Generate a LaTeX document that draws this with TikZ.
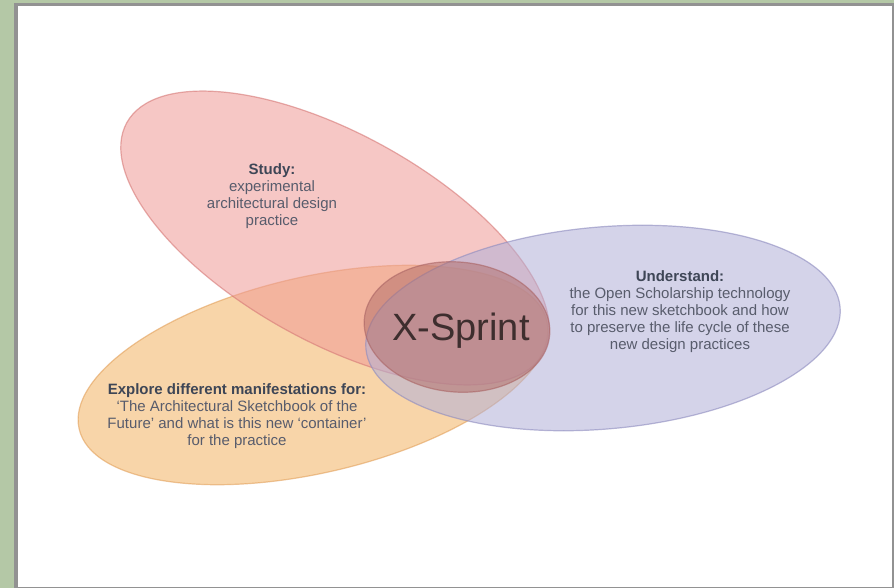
\documentclass[tikz,border=0pt]{standalone}
\usepackage{fontspec}
\setmainfont{Liberation Sans}
\definecolor{framegreen}{RGB}{180,200,166}
\definecolor{framegray}{RGB}{146,146,146}
\definecolor{studyred}{RGB}{239,153,150}
\definecolor{studyedge}{RGB}{214,120,118}
\definecolor{exploreorange}{RGB}{244,180,100}
\definecolor{exploreedge}{RGB}{226,160,90}
\definecolor{understandblue}{RGB}{178,176,216}
\definecolor{understandedge}{RGB}{140,138,190}
\definecolor{sprintfill}{RGB}{176,108,104}
\definecolor{sprintedge}{RGB}{170,100,100}
\definecolor{captiongray}{RGB}{88,92,108}
\definecolor{headgray}{RGB}{62,70,86}
\newcommand{\heading}[1]{{\color{headgray}\bfseries #1}}

\begin{document}
\begin{tikzpicture}[x=1pt, y=-1pt]
  \tikzset{blob/.style={fill opacity=0.55, draw opacity=0.6, line width=1.2pt},
           caption/.style={align=center, text=captiongray, font=\fontsize{15}{17}\selectfont}}
  % frame of the screenshot
  \fill[framegreen] (0,0) rectangle (894,588);
  \fill[framegray] (14,3) rectangle (894,588);
  \fill[white] (18,6.5) rectangle (891.5,586.5);
  \useasboundingbox (0,0) rectangle (894,588);
  % the three sets
  \filldraw[blob, fill=exploreorange, draw=exploreedge, rotate around={13:(313,375)}]
    (313,375) ellipse (240 and 98);
  \filldraw[blob, fill=studyred, draw=studyedge, rotate around={-29:(335,238)}]
    (335,238) ellipse (238 and 104);
  \filldraw[blob, fill=understandblue, draw=understandedge, rotate around={5:(603,328)}]
    (603,328) ellipse (238 and 101);
  % the middle
  \filldraw[blob, fill opacity=0.5, fill=sprintfill, draw=sprintedge, rotate around={-5:(457,327)}]
    (457,327) ellipse (93 and 65);
  \node[caption] (study) at (272,196)
    {\heading{Study:}\\experimental\\architectural design\\practice};
  \node[caption] (understand) at (680,312)
    {\heading{Understand:}\\the Open Scholarship technology\\for this new sketchbook and how\\to preserve the life cycle of these\\new design practices};
  \node[caption] (explore) at (237,416)
    {\heading{Explore different manifestations for:}\\‘The Architectural Sketchbook of the\\Future’ and what is this new ‘container’\\for the practice};
  \node[text={rgb,255:red,62;green,46;blue,46}, font=\fontsize{38}{40}\selectfont] (sprint) at (461,331) {X-Sprint};
\end{tikzpicture}
\end{document}
